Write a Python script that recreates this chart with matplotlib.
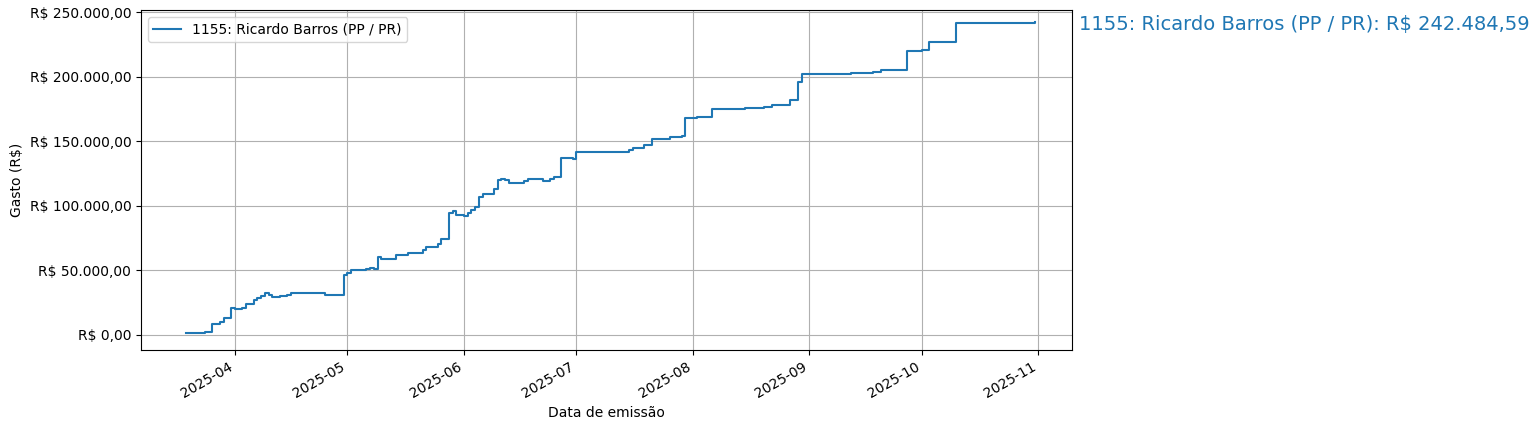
import matplotlib
matplotlib.use("Agg")
import matplotlib.pyplot as plt
import matplotlib.dates as mdates
import matplotlib.ticker as mticker
import pandas as pd

dates = ["2025-03-19","2025-03-24","2025-03-26","2025-03-28","2025-03-29","2025-03-31","2025-04-01",
"2025-04-03","2025-04-04","2025-04-06","2025-04-07","2025-04-08","2025-04-09","2025-04-10","2025-04-11",
"2025-04-13","2025-04-15","2025-04-16","2025-04-25","2025-04-30","2025-05-01","2025-05-02","2025-05-06",
"2025-05-07","2025-05-08","2025-05-09","2025-05-10","2025-05-14","2025-05-17","2025-05-20","2025-05-21",
"2025-05-22","2025-05-25","2025-05-26","2025-05-28","2025-05-29","2025-05-30","2025-06-01","2025-06-02",
"2025-06-03","2025-06-04","2025-06-05","2025-06-06","2025-06-09","2025-06-10","2025-06-11","2025-06-12",
"2025-06-13","2025-06-17","2025-06-18","2025-06-22","2025-06-24","2025-06-25","2025-06-27","2025-06-30",
"2025-07-01","2025-07-15","2025-07-16","2025-07-19","2025-07-21","2025-07-26","2025-07-29","2025-07-30",
"2025-08-02","2025-08-06","2025-08-15","2025-08-20","2025-08-22","2025-08-27","2025-08-29","2025-08-30",
"2025-09-12","2025-09-18","2025-09-20","2025-09-27","2025-10-01","2025-10-03","2025-10-10","2025-10-31"]
values_k = [1.5,2,8,10,13,21,20,21,24,27,28,30,32,31,29,30,31,32,31,46.5,48,50,51,52,51,60,59,62,63,63.5,
66,68,70,74,94,96,93,92,94,97,99,107,109,113,120,121,120,118,119,121,119,121,122,137,136,142,143,145,147,
152,153,154,168,169,175,176,177,178,182,196,202,203,204,205,220,221,227,242,242.48459]
series_label = "1155: Ricardo Barros (PP / PR)"
total_text = "R$ 242.484,59"

x = pd.to_datetime(dates)
y = [v * 1000 for v in values_k]

fig = plt.figure(figsize=(15.39, 4.30), dpi=100)
ax = fig.add_axes([0.0916, 0.186, 0.605, 0.791])
ax.step(x, y, where="post", color="tab:blue", label=series_label)
ax.grid(True)
ax.legend(loc="upper left")
ax.set_xlabel("Data de emissão")
ax.set_ylabel("Gasto (R$)")
ax.set_ylim(-12000, 252000)
ax.set_xlim(pd.Timestamp("2025-03-07"), pd.Timestamp("2025-11-10"))
ax.xaxis.set_major_locator(mdates.MonthLocator())
ax.xaxis.set_major_formatter(mdates.DateFormatter("%Y-%m"))
def fmt(v, p):
    s = f"{v:,.2f}".replace(",", "X").replace(".", ",").replace("X", ".")
    return "R$ " + s
ax.yaxis.set_major_formatter(mticker.FuncFormatter(fmt))
ax.yaxis.set_major_locator(mticker.MultipleLocator(50000))
for lbl in ax.get_xticklabels():
    lbl.set_rotation(30); lbl.set_ha("right")
fig.text(0.701, 0.942, f"{series_label}: {total_text}", color="tab:blue", fontsize=14, va="center")
fig.savefig("out.png")
